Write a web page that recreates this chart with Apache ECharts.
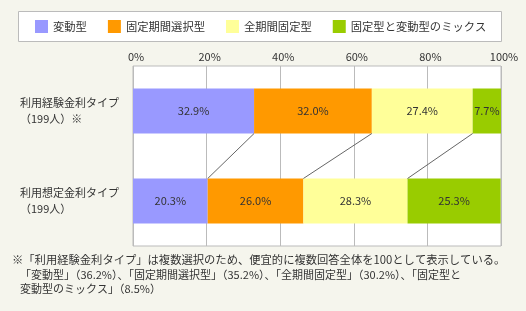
<!DOCTYPE html>
<html>
<head>
<meta charset="utf-8">
<script src="https://cdn.jsdelivr.net/npm/echarts@6/dist/echarts.min.js"></script>
<style>
  html, body { margin: 0; padding: 0; background: #f5f5ed; }
  #chart { width: 526px; height: 311px; }
</style>
</head>
<body>
<div id="chart"></div>
<script>
const categories = ['利用経験金利タイプ\n（199人）※', '利用想定金利タイプ\n（199人）']
const seriesNames = ['変動型', '固定期間選択型', '全期間固定型', '固定型と変動型のミックス']
const experienced = [32.9, 32.0, 27.4, 7.7]
const planned = [20.3, 26.0, 28.3, 25.3]
const xTicks = [0, 20, 40, 60, 80, 100]
const colors = ['#9999ff', '#ff9900', '#ffff99', '#99cc00']

const BAR_W = 45
const FONT = '"Noto Sans CJK JP", "Noto Sans", sans-serif'

function cumulative(arr) {
  let s = 0
  return arr.map(v => (s += v))
}

// boundaries between segments, used for the connector lines
const cumExp = cumulative(experienced)
const cumPlan = cumulative(planned)
const connectors = []
for (let i = 0; i < seriesNames.length - 1; i++) {
  connectors.push([cumExp[i], cumPlan[i], 0])
}

const barSeries = seriesNames.map((name, i) => ({
  name,
  type: 'bar',
  stack: 'total',
  barWidth: BAR_W,
  itemStyle: { color: colors[i] },
  label: {
    show: true,
    position: 'inside',
    color: '#333',
    fontSize: 11,
    fontFamily: FONT,
    formatter: p => p.value.toFixed(1) + '%'
  },
  data: [experienced[i], planned[i]]
}))

const chart = echarts.init(document.getElementById('chart'))

chart.setOption({
  backgroundColor: '#f5f5ed',
  textStyle: { fontFamily: FONT },
  animation: false,
  graphic: [
    {
      type: 'rect',
      shape: { x: 18.5, y: 11.5, width: 483, height: 30 },
      style: { fill: '#fff', stroke: '#bbb', lineWidth: 1 },
      z: -1
    },
    {
      type: 'text',
      left: 12,
      top: 254,
      style: {
        text: '※「利用経験金利タイプ」は複数選択のため、便宜的に複数回答全体を100として表示している。',
        fill: '#333',
        font: '11.3px ' + FONT
      }
    },
    {
      type: 'text',
      left: 20,
      top: 267.5,
      style: {
        text: '「変動型」（36.2%）、「固定期間選択型」（35.2%）、「全期間固定型」（30.2%）、「固定型と\n変動型のミックス」（8.5%）',
        fill: '#333',
        font: '11px ' + FONT,
        lineHeight: 14
      }
    }
  ],
  legend: {
    data: seriesNames,
    left: 35,
    top: 20,
    padding: 0,
    itemWidth: 13,
    itemHeight: 13,
    itemGap: 21,
    icon: 'rect',
    textStyle: { color: '#333', fontSize: 11.3, fontFamily: FONT }
  },
  grid: {
    left: 133,
    right: 25,
    top: 66,
    bottom: 65,
    show: true,
    backgroundColor: '#fff',
    borderColor: '#bbb',
    borderWidth: 1
  },
  xAxis: {
    type: 'value',
    position: 'top',
    min: xTicks[0],
    max: xTicks[xTicks.length - 1],
    interval: 20,
    axisLine: { show: false },
    axisTick: { show: false },
    axisLabel: {
      color: '#333',
      fontSize: 11,
      margin: 4,
      padding: [0, 0, 0, 6],
      formatter: '{value}%'
    },
    splitLine: { lineStyle: { color: '#bbb', width: 1 } }
  },
  yAxis: {
    type: 'category',
    inverse: true,
    data: categories,
    axisLine: { show: false },
    axisTick: { show: false },
    axisLabel: {
      align: 'left',
      margin: 113,
      color: '#333',
      fontSize: 11,
      lineHeight: 16
    }
  },
  series: barSeries.concat([{
    type: 'custom',
    silent: true,
    z: 5,
    encode: { x: [0, 1], y: 2 },
    renderItem(params, api) {
      const a = api.coord([api.value(0), 0])
      const b = api.coord([api.value(1), 1])
      return {
        type: 'line',
        shape: { x1: a[0], y1: a[1] + BAR_W / 2, x2: b[0], y2: b[1] - BAR_W / 2 },
        style: { stroke: '#666', lineWidth: 1 }
      }
    },
    data: connectors
  }])
})
</script>
</body>
</html>
